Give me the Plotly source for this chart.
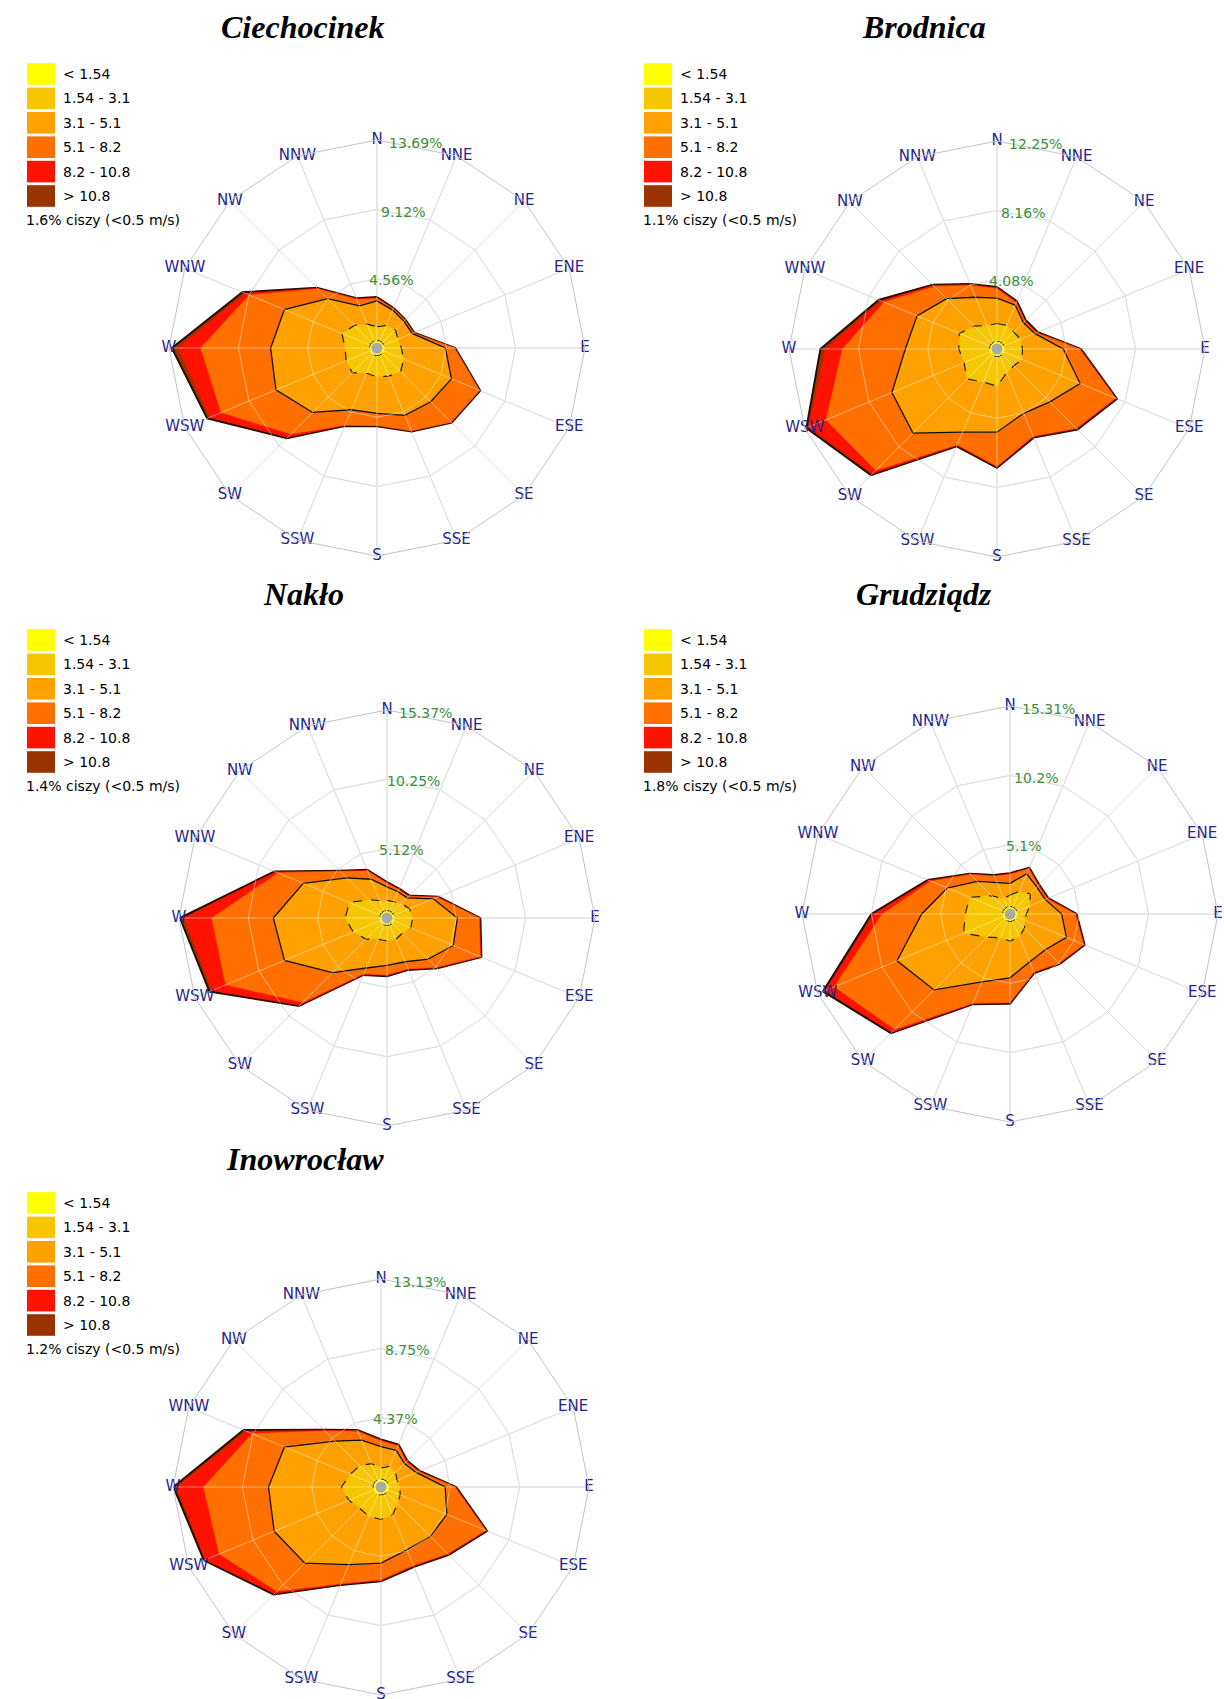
import math
import plotly.graph_objects as go

W, H = 1224, 1699

DIRS = ["N", "NNE", "NE", "ENE", "E", "ESE", "SE", "SSE",
        "S", "SSW", "SW", "WSW", "W", "WNW", "NW", "NNW"]
CLASSES = ["< 1.54", "1.54 - 3.1", "3.1 - 5.1", "5.1 - 8.2", "8.2 - 10.8", "> 10.8"]
COLORS = ["#FFFF00", "#F6C600", "#FFA100", "#FF7000", "#FF1200", "#993300"]

STATIONS = ["Ciechocinek", "Brodnica", "Nakło", "Grudziądz", "Inowrocław"]
CALMS = [1.6, 1.1, 1.4, 1.8, 1.2]
RTICKS = [
    [4.56, 9.12, 13.69],
    [4.08, 8.16, 12.25],
    [5.12, 10.25, 15.37],
    [5.1, 10.2, 15.31],
    [4.37, 8.75, 13.13],
]

# cumulative frequency (%) at the outer edge of each speed class, per direction (N ... NNW)
ciechocinek_cum = [
    [0.5, 0.5, 0.5, 0.5, 0.5, 0.5, 0.5, 0.5, 0.5, 0.5, 0.5, 0.5, 0.5, 0.5, 0.5, 0.5],
    [1.4, 1.6, 1.7, 1.5, 1.6, 1.9, 2.2, 2.0, 1.9, 1.8, 2.3, 2.2, 2.1, 2.5, 2.1, 1.7],
    [3.1, 2.7, 2.5, 2.5, 4.5, 5.3, 5.0, 4.8, 4.3, 4.4, 6.0, 7.2, 7.0, 6.6, 4.6, 3.0],
    [3.25, 2.8, 2.6, 2.6, 5.1, 7.3, 6.9, 5.9, 5.1, 5.5, 8.0, 11.1, 11.6, 9.1, 5.5, 3.45],
    [3.3, 2.8, 2.6, 2.6, 5.1, 7.3, 6.9, 5.9, 5.1, 5.5, 8.3, 11.9, 13.1, 9.4, 5.55, 3.5],
    [3.35, 2.85, 2.65, 2.65, 5.15, 7.35, 6.95, 5.95, 5.15, 5.55, 8.4, 12.1, 13.5, 9.6, 5.6, 3.55],
]
brodnica_cum = [
    [0.45, 0.45, 0.45, 0.45, 0.45, 0.45, 0.45, 0.45, 0.45, 0.45, 0.45, 0.45, 0.45, 0.45, 0.45, 0.45],
    [1.5, 1.5, 1.4, 1.5, 1.5, 1.6, 1.4, 1.5, 2.2, 2.1, 2.5, 2.1, 2.25, 2.4, 1.9, 1.5],
    [3.0, 2.8, 2.2, 2.4, 3.9, 5.3, 4.4, 4.1, 4.9, 5.3, 7.0, 6.7, 5.4, 5.1, 4.2, 3.3],
    [3.55, 2.95, 2.3, 2.5, 4.85, 7.55, 6.6, 5.55, 6.9, 6.1, 10.1, 10.9, 9.1, 7.2, 5.2, 4.05],
    [3.6, 3.0, 2.35, 2.55, 4.9, 7.6, 6.65, 5.6, 6.95, 6.15, 10.4, 12.0, 10.1, 7.4, 5.3, 4.1],
    [3.65, 3.05, 2.4, 2.6, 4.95, 7.65, 6.7, 5.65, 7.0, 6.2, 10.5, 12.15, 10.4, 7.55, 5.35, 4.15],
]
naklo_cum = [
    [0.55, 0.55, 0.55, 0.55, 0.55, 0.55, 0.55, 0.55, 0.55, 0.55, 0.55, 0.55, 0.55, 0.55, 0.55, 0.55],
    [1.3, 1.3, 1.5, 1.8, 1.9, 1.9, 1.6, 1.7, 1.7, 1.7, 2.2, 2.7, 3.1, 3.0, 1.9, 1.4],
    [2.3, 2.1, 2.1, 3.7, 5.2, 5.3, 4.3, 3.5, 3.5, 4.0, 5.7, 8.2, 8.4, 6.7, 4.2, 3.1],
    [2.55, 2.25, 2.25, 4.0, 6.8, 7.45, 5.15, 4.05, 4.2, 4.45, 8.8, 12.9, 12.95, 8.7, 4.85, 3.75],
    [2.6, 2.3, 2.3, 4.05, 6.85, 7.5, 5.2, 4.1, 4.25, 4.5, 9.1, 14.0, 15.0, 8.9, 4.9, 3.8],
    [2.65, 2.35, 2.35, 4.1, 6.9, 7.55, 5.25, 4.15, 4.3, 4.55, 9.2, 14.2, 15.3, 9.0, 4.95, 3.85],
]
grudziadz_cum = [
    [0.55, 0.55, 0.55, 0.55, 0.55, 0.55, 0.55, 0.55, 0.55, 0.55, 0.55, 0.55, 0.55, 0.55, 0.55, 0.55],
    [1.4, 1.8, 2.1, 1.6, 1.2, 1.2, 1.5, 1.8, 2.0, 1.9, 2.4, 3.7, 3.3, 3.2, 1.9, 1.2],
    [2.25, 3.2, 2.8, 2.8, 3.8, 4.5, 3.7, 3.8, 4.7, 5.4, 7.9, 9.0, 6.5, 5.0, 3.4, 2.5],
    [2.9, 3.6, 2.95, 2.95, 4.8, 5.85, 5.1, 4.6, 6.5, 7.1, 12.0, 14.0, 9.4, 6.3, 4.1, 3.0],
    [2.95, 3.65, 3.0, 3.0, 4.85, 5.9, 5.15, 4.65, 6.55, 7.15, 12.3, 14.7, 10.0, 6.45, 4.15, 3.05],
    [3.0, 3.7, 3.05, 3.05, 4.9, 5.95, 5.2, 4.7, 6.6, 7.2, 12.4, 14.9, 10.2, 6.55, 4.2, 3.1],
]
inowroclaw_cum = [
    [0.5, 0.5, 0.5, 0.5, 0.5, 0.5, 0.5, 0.5, 0.5, 0.5, 0.5, 0.5, 0.5, 0.5, 0.5, 0.5],
    [1.2, 1.4, 1.3, 1.1, 1.2, 1.3, 1.5, 1.9, 2.05, 2.0, 1.9, 2.2, 2.5, 2.1, 1.9, 1.6],
    [2.55, 2.5, 2.1, 2.4, 4.05, 4.5, 4.4, 4.3, 4.8, 5.3, 6.8, 7.3, 7.1, 6.6, 4.1, 3.2],
    [2.9, 2.8, 2.25, 2.55, 4.65, 7.15, 5.95, 5.35, 5.85, 6.6, 9.3, 11.05, 11.2, 8.8, 5.0, 3.8],
    [2.95, 2.85, 2.3, 2.6, 4.7, 7.2, 6.0, 5.4, 5.9, 6.65, 9.5, 12.0, 12.9, 9.2, 5.05, 3.85],
    [3.0, 2.9, 2.35, 2.65, 4.75, 7.25, 6.05, 5.45, 5.95, 6.7, 9.6, 12.1, 13.1, 9.4, 5.1, 3.9],
]
DATA = [ciechocinek_cum, brodnica_cum, naklo_cum, grudziadz_cum, inowroclaw_cum]

# ---------------- layout (pixels) ----------------
CENTERS = [(377, 348), (997, 349), (387, 918), (1010, 914), (381, 1487)]
RADIUS = 208
LEGEND_POS = [(27, 74), (644, 74), (27, 640), (644, 640), (27, 1203)]
TITLE_POS = [(303, 27), (924, 27), (303, 594), (924, 594), (305, 1159)]
ROW = 24.4
LABEL_ANGLE = math.radians(10)   # radial % labels sit along a line ~10 deg east of north

FONT = "DejaVu Sans"
NAVY = "#25258C"
GREEN = "#3A8F3A"
GRID = "#C4C4C4"

fig = go.Figure()
shapes = []
annotations = []


def px(x):
    return x / W


def py(y):
    return 1 - y / H


LINE_STYLES = [
    dict(color="#202020", width=1, dash="dash"),
    dict(color="#202020", width=1.2, dash="dash"),
    dict(color="#101010", width=1.3),
    dict(color=COLORS[3], width=0.5),
    dict(color=COLORS[4], width=0.5),
    dict(color="#2a0d00", width=2),
]

for i, name in enumerate(STATIONS):
    sub = "polar" if i == 0 else f"polar{i + 1}"
    cum = DATA[i]
    ticks = RTICKS[i]
    rmax = ticks[-1]
    closed_theta = DIRS + [DIRS[0]]
    cx, cy = CENTERS[i]

    for k in reversed(range(len(CLASSES))):
        fig.add_trace(go.Scatterpolar(
            r=cum[k] + [cum[k][0]], theta=closed_theta, mode="lines",
            fill="toself", fillcolor=COLORS[k], line=LINE_STYLES[k],
            subplot=sub, showlegend=False, hoverinfo="skip"))

    # light grid visible through the filled areas
    gr, gt = [], []
    for d in DIRS:
        gr += [0, rmax, None]
        gt += [d, d, d]
    for t in ticks[:-1]:
        gr += [t] * 17 + [None]
        gt += closed_theta + [DIRS[0]]
    fig.add_trace(go.Scatterpolar(
        r=gr, theta=gt, mode="lines", connectgaps=False,
        line=dict(color="rgba(255,255,255,0.45)", width=1),
        subplot=sub, showlegend=False, hoverinfo="skip"))

    # calm circle (at the centre of the rose)
    fig.add_trace(go.Scatterpolar(
        r=[1e-6], theta=[DIRS[0]], mode="markers",
        marker=dict(size=11, color="#A9A9A9", line=dict(width=0)),
        cliponaxis=False,
        subplot=sub, showlegend=False, hoverinfo="skip"))

    # direction labels
    fig.add_trace(go.Scatterpolar(
        r=[rmax] * len(DIRS), theta=DIRS, mode="text", text=DIRS,
        textposition="middle center",
        textfont=dict(family=FONT, size=15, color=NAVY), cliponaxis=False,
        subplot=sub, showlegend=False, hoverinfo="skip"))

    # radial percent labels (placed along a slanted line from the centre)
    for t in ticks:
        rr = RADIUS * t / rmax
        annotations.append(dict(
            x=px(cx + rr * math.sin(LABEL_ANGLE) + 2), y=py(cy - rr * math.cos(LABEL_ANGLE)),
            xref="paper", yref="paper", text=f"{t:g}%", showarrow=False,
            xanchor="center", yanchor="middle",
            font=dict(family=FONT, size=14, color=GREEN)))

    fig.update_layout(**{sub: dict(
        domain=dict(x=[px(cx - RADIUS), px(cx + RADIUS)],
                    y=[py(cy + RADIUS), py(cy - RADIUS)]),
        bgcolor="white",
        gridshape="linear",
        radialaxis=dict(range=[0, rmax], tickvals=ticks, showticklabels=False,
                        ticks="", showline=False, gridcolor=GRID, gridwidth=1),
        angularaxis=dict(type="category", categoryarray=DIRS, categoryorder="array",
                         direction="clockwise", rotation=90, showticklabels=False,
                         ticks="", showline=True, linecolor=GRID, linewidth=1,
                         gridcolor=GRID, gridwidth=1),
    )})

    # title
    tx, ty = TITLE_POS[i]
    annotations.append(dict(
        x=px(tx), y=py(ty), xref="paper", yref="paper", text=f"<b><i>{name}</i></b>",
        showarrow=False, xanchor="center", yanchor="middle",
        font=dict(family="Liberation Serif", size=32, color="black")))

    # legend
    lx, ly = LEGEND_POS[i]
    for k, lab in enumerate(CLASSES):
        yc = ly + k * ROW
        shapes.append(dict(type="rect", xref="paper", yref="paper",
                           x0=px(lx), x1=px(lx + 28), y0=py(yc + 10.8), y1=py(yc - 10.8),
                           fillcolor=COLORS[k], line=dict(width=0)))
        annotations.append(dict(
            x=px(lx + 34), y=py(yc), xref="paper", yref="paper", text=lab,
            showarrow=False, xanchor="left", yanchor="middle",
            font=dict(family=FONT, size=14, color="black")))
    annotations.append(dict(
        x=px(lx - 3), y=py(ly + 6 * ROW), xref="paper", yref="paper",
        text=f"{CALMS[i]}% ciszy (&lt;0.5 m/s)",
        showarrow=False, xanchor="left", yanchor="middle",
        font=dict(family=FONT, size=14, color="black")))

fig.update_layout(
    width=W, height=H, margin=dict(l=0, r=0, t=0, b=0),
    paper_bgcolor="white", plot_bgcolor="white",
    showlegend=False, shapes=shapes, annotations=annotations,
)

fig.write_html("out.html")
